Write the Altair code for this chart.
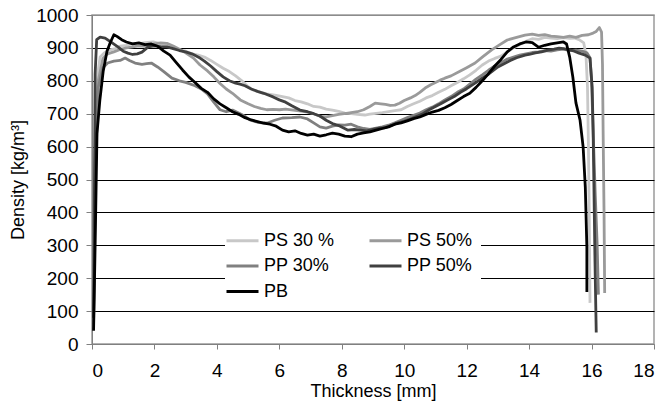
import altair as alt
import pandas as pd

series_names = ["PS 30 %", "PS 50%", "PP 30%", "PP 50%", "PB"]
series_colors = ["#c8c8c8", "#9a9a9a", "#808080", "#404040", "#000000"]
legend_order = ["PS 30 %", "PP 30%", "PB", "PS 50%", "PP 50%"]

ps30_x = [0.05, 0.08, 0.12, 0.18, 0.26, 0.4, 0.58, 0.75, 0.9, 1.1, 1.3, 1.5, 1.7, 1.96, 2.2, 2.4, 2.6, 2.8, 3.0, 3.2,
          3.4, 3.6, 3.8, 4.0, 4.2, 4.4, 4.6, 4.8, 5.0, 5.16, 5.4, 5.6, 5.9, 6.1, 6.3, 6.5, 6.7, 6.9, 7.1, 7.3,
          7.5, 7.7, 7.9, 8.1, 8.3, 8.5, 8.74, 8.9, 9.1, 9.3, 9.5, 9.7, 9.9, 10.1, 10.3, 10.5, 10.7, 10.9, 11.1, 11.3,
          11.5, 11.7, 11.9, 12.1, 12.3, 12.5, 12.7, 12.9, 13.1, 13.3, 13.5, 13.7, 13.9, 14.1, 14.3, 14.5, 14.7, 14.9,
          15.1, 15.3, 15.45, 15.6, 15.75, 15.82, 15.87, 15.9, 15.93, 15.95]
ps30_y = [60, 400, 700, 820, 872, 885, 894, 898, 905, 908, 914, 912, 916, 918, 912, 906, 900, 894, 890, 882,
          878, 872, 862, 850, 838, 828, 815, 800, 782, 772, 765, 760, 756, 752, 748, 740, 736, 730, 722, 720,
          714, 711, 707, 702, 700, 698, 696, 699, 701, 703, 706, 709, 712, 722, 730, 738, 748, 755, 765, 774,
          785, 795, 806, 818, 832, 848, 860, 868, 875, 888, 900, 910, 920, 928, 926, 932, 930, 928,
          931, 929, 930, 925, 915, 880, 780, 600, 350, 125]

ps50_x = [0.05, 0.08, 0.12, 0.2, 0.35, 0.5, 0.7, 0.9, 1.1, 1.3, 1.5, 1.7, 2.0, 2.2, 2.4, 2.6, 2.8, 3.0, 3.25, 3.46,
          3.7, 3.9, 4.1, 4.3, 4.5, 4.75, 5.0, 5.2, 5.4, 5.6, 5.8, 6.0, 6.2, 6.45, 6.7, 6.9, 7.1, 7.3, 7.5, 7.7,
          7.9, 8.2, 8.5, 8.7, 8.9, 9.07, 9.25, 9.4, 9.55, 9.7, 9.85, 10.0, 10.2, 10.35, 10.5, 10.67, 10.85, 11.0, 11.15, 11.3,
          11.5, 11.8, 12.0, 12.27, 12.5, 12.8, 13.0, 13.3, 13.6, 13.87, 14.1, 14.3, 14.5, 14.7, 14.9, 15.1, 15.3, 15.5,
          15.7, 15.9, 16.05, 16.15, 16.25, 16.32, 16.35, 16.37, 16.4, 16.42]
ps50_y = [50, 350, 650, 800, 868, 882, 888, 895, 900, 903, 906, 905, 912, 915, 914, 906, 896, 885, 869, 848,
          830, 812, 792, 775, 762, 742, 730, 722, 716, 712, 713, 712, 714, 711, 708, 705, 700, 692, 690, 694,
          698, 702, 706, 712, 722, 732, 730, 728, 725, 726, 732, 740, 748, 755, 765, 778, 788, 795, 802, 808,
          815, 830, 840, 854, 872, 894, 906, 924, 932, 939, 942, 938, 940, 936, 934, 932, 936, 932,
          938, 940, 945, 950, 962, 948, 850, 650, 400, 155]

pp30_x = [0.05, 0.08, 0.12, 0.2, 0.35, 0.5, 0.7, 0.9, 1.06, 1.2, 1.38, 1.6, 1.75, 1.9, 2.1, 2.3, 2.56, 2.8, 3.0, 3.3,
          3.5, 3.7, 3.9, 4.1, 4.3, 4.5, 4.7, 4.9, 5.06, 5.3, 5.6, 5.85, 6.1, 6.4, 6.66, 6.9, 7.1, 7.3, 7.5, 7.7,
          7.9, 8.1, 8.3, 8.5, 8.7, 8.9, 9.1, 9.3, 9.5, 9.7, 9.9, 10.1, 10.3, 10.5, 10.7, 10.9, 11.1, 11.3, 11.5, 11.7,
          11.9, 12.1, 12.3, 12.5, 12.7, 12.9, 13.1, 13.3, 13.5, 13.7, 13.9, 14.1, 14.3, 14.5, 14.7, 14.9, 15.1, 15.3,
          15.5, 15.7, 15.85, 15.95, 16.0, 16.05, 16.12, 16.18, 16.22]
pp30_y = [60, 300, 550, 780, 840, 854, 860, 862, 869, 862, 854, 850, 852, 854, 842, 828, 808, 800, 795, 785,
          775, 760, 735, 712, 706, 711, 702, 692, 681, 674, 671, 680, 687, 688, 690, 684, 672, 660, 656, 662,
          666, 665, 668, 660, 655, 652, 656, 660, 665, 672, 680, 688, 695, 702, 712, 720, 730, 742, 752, 765,
          775, 790, 805, 818, 832, 845, 855, 866, 872, 878, 882, 886, 888, 892, 890, 894, 896, 892,
          893, 890, 885, 870, 800, 650, 450, 300, 150]

pp50_x = [0.05, 0.08, 0.1, 0.15, 0.26, 0.42, 0.6, 0.83, 1.0, 1.15, 1.3, 1.45, 1.6, 1.8, 2.0, 2.2, 2.4, 2.6, 2.8, 3.0,
          3.2, 3.46, 3.6, 3.8, 4.0, 4.2, 4.4, 4.6, 4.74, 4.9, 5.1, 5.3, 5.5, 5.8, 6.0, 6.2, 6.4, 6.66, 6.9, 7.1,
          7.3, 7.5, 7.7, 7.9, 8.2, 8.4, 8.6, 8.8, 9.0, 9.2, 9.4, 9.6, 9.8, 10.0, 10.2, 10.35, 10.6, 10.8, 11.0, 11.2,
          11.4, 11.6, 11.8, 12.0, 12.27, 12.5, 12.7, 13.0, 13.2, 13.4, 13.6, 13.87, 14.0, 14.2, 14.4, 14.6, 14.8, 14.96,
          15.1, 15.3, 15.45, 15.6, 15.8, 15.95, 16.02, 16.05, 16.08, 16.11, 16.15]
pp50_y = [80, 500, 820, 925, 933, 930, 918, 903, 890, 884, 880, 882, 887, 903, 906, 904, 903, 898, 892, 888,
          882, 869, 860, 845, 828, 812, 800, 793, 790, 785, 775, 768, 762, 751, 742, 735, 724, 711, 706, 700,
          693, 680, 670, 664, 650, 652, 650, 648, 652, 656, 658, 665, 672, 677, 684, 690, 700, 712, 722, 732,
          742, 752, 765, 776, 793, 808, 820, 842, 852, 862, 870, 878, 880, 885, 888, 893, 896, 899,
          898, 894, 890, 884, 878, 869, 780, 650, 450, 250, 35]

pb_x = [0.05, 0.1, 0.16, 0.25, 0.36, 0.48, 0.58, 0.7, 0.8, 0.95, 1.1, 1.3, 1.5, 1.7, 1.9, 2.1, 2.3, 2.5, 2.7, 2.9,
        3.1, 3.3, 3.5, 3.7, 3.9, 4.1, 4.3, 4.5, 4.7, 4.9, 5.1, 5.3, 5.5, 5.7, 5.9, 6.1, 6.3, 6.5, 6.7, 6.9,
        7.1, 7.3, 7.5, 7.7, 7.9, 8.1, 8.3, 8.5, 8.7, 8.9, 9.1, 9.3, 9.5, 9.7, 9.9, 10.1, 10.3, 10.5, 10.7, 10.9,
        11.1, 11.3, 11.5, 11.7, 11.9, 12.1, 12.3, 12.5, 12.7, 12.9, 13.1, 13.3, 13.5, 13.7, 13.9, 14.1, 14.3, 14.5,
        14.7, 14.9, 15.1, 15.2, 15.3, 15.4, 15.5, 15.63, 15.73, 15.8, 15.85, 15.85]
pb_y = [40, 300, 640, 740, 830, 890, 915, 940, 935, 925, 918, 912, 915, 910, 912, 905, 890, 878, 855, 833,
        812, 795, 777, 765, 745, 730, 718, 706, 698, 688, 681, 676, 671, 668, 662, 650, 645, 648, 640, 635,
        638, 632, 636, 641, 638, 632, 630, 638, 642, 645, 650, 655, 660, 668, 672, 678, 685, 690, 698, 705,
        710, 718, 728, 740, 752, 762, 780, 800, 822, 845, 865, 888, 903, 912, 918, 916, 902, 908,
        912, 915, 918, 912, 872, 812, 733, 681, 599, 477, 295, 158]

frames = []
for name, xs, ys in [
    ("PS 30 %", ps30_x, ps30_y),
    ("PS 50%", ps50_x, ps50_y),
    ("PP 30%", pp30_x, pp30_y),
    ("PP 50%", pp50_x, pp50_y),
    ("PB", pb_x, pb_y),
]:
    frames.append(pd.DataFrame({"series": name, "thickness": xs, "density": ys, "order": range(len(xs))}))
df = pd.concat(frames, ignore_index=True)

FONT = "Liberation Sans"

grid_color = {"condition": {"test": "datum.value >= 1000 || datum.value <= 0", "value": "#8c8c8c"},
              "value": "#000000"}

chart = alt.Chart(df).mark_line(strokeWidth=2.8, strokeJoin="round").encode(
    x=alt.X("thickness:Q", scale=alt.Scale(domain=[0, 18], nice=False),
            axis=alt.Axis(title="Thickness [mm]", values=list(range(0, 19, 2)), grid=False,
                          tickSize=5, tickColor="#808080", domainColor="#808080",
                          labelFont=FONT, labelFontSize=19, labelColor="#000", labelPadding=12,
                          titleFont=FONT, titleFontSize=18, titleFontWeight="normal", titleColor="#000",
                          titlePadding=2)),
    y=alt.Y("density:Q", scale=alt.Scale(domain=[0, 1000], nice=False),
            axis=alt.Axis(title="Density [kg/m³]", values=list(range(0, 1001, 100)), grid=True,
                          format="d",
                          gridColor=grid_color, gridWidth=1,
                          tickSize=6, tickColor="#808080", domainColor="#808080",
                          labelFont=FONT, labelFontSize=19, labelColor="#000", labelPadding=8,
                          titleFont=FONT, titleFontSize=18, titleFontWeight="normal", titleColor="#000",
                          titlePadding=8)),
    color=alt.Color("series:N", scale=alt.Scale(domain=series_names, range=series_colors),
                    legend=alt.Legend(title=None, orient="none", legendX=133, legendY=208,
                                      values=legend_order,
                                      columns=2, columnPadding=28, rowPadding=6.5,
                                      symbolType="M-2,0H2", symbolSize=256, symbolStrokeWidth=3,
                                      labelFont=FONT, labelFontSize=18, labelColor="#000", labelOffset=12,
                                      fillColor="white", padding=8)),
    order="order:Q",
).properties(
    width=562, height=329,
    autosize=alt.AutoSizeParams(type="none"),
    padding={"left": 84, "top": 7, "right": 3, "bottom": 57},
).configure_view(stroke="#9a9a9a", strokeWidth=1.5)

chart.save("out.html", embed_options={"renderer": "svg", "actions": False})
